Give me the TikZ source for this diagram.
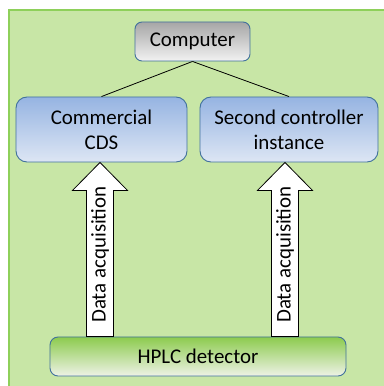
\documentclass[tikz,border=0pt]{standalone}
\usepackage{fontspec}
\setmainfont{Carlito}
\usetikzlibrary{calc}
\definecolor{bggreen}{HTML}{C8E6A6}
\definecolor{bgborder}{HTML}{8ED05A}
\definecolor{boxborder}{HTML}{41719C}
\definecolor{bluetop}{HTML}{96B4E2}
\definecolor{bluebot}{HTML}{DDE6F4}
\definecolor{graytop}{HTML}{A6A6A6}
\definecolor{graybot}{HTML}{F2F2F2}
\definecolor{greentop}{HTML}{8CCB4E}
\definecolor{greenbot}{HTML}{EEF2E6}
\tikzset{
  lbl/.style={font=\fontsize{21}{25}\selectfont, align=center, text=black},
  box/.style={lbl, draw=boxborder, line width=0.9bp, inner sep=0pt},
  graybox/.style={box, rounded corners=7bp, top color=graytop, bottom color=graybot},
  bluebox/.style={box, rounded corners=11bp, top color=bluetop, bottom color=bluebot},
  greenbox/.style={box, rounded corners=8bp, top color=greentop, bottom color=greenbot},
  link/.style={draw=black, line width=0.8bp},
  bigarrow/.style={draw=black, fill=white, line width=0.8bp, line join=miter},
}
\begin{document}
\begin{tikzpicture}[x=1bp,y=1bp]
\useasboundingbox (0,0) rectangle (384,386);
\begin{scope}
\clip (0,0) rectangle (384,386);
\draw[fill=bggreen, draw=bgborder, line width=2bp] (9,375.5) rectangle (400,-10);
\end{scope}
% nodes
\node[graybox, minimum width=115bp, minimum height=39bp] (comp) at (192.5,344.5) {Computer};
\node[bluebox, minimum width=171bp, minimum height=65bp] (cds) at (101.5,256.5) {Commercial\\CDS};
\node[bluebox, minimum width=178bp, minimum height=65bp] (sec) at (289,256.5) {Second controller\\instance};
\node[greenbox, minimum width=296bp, minimum height=39bp] (hplc) at (198,29.5) {HPLC detector};
% links
\draw[link] (comp.south) -- (cds.north);
\draw[link] (comp.south) -- (sec.north);
% big arrows
\coordinate (la) at (hplc.north -| 100,0);
\coordinate (ra) at (hplc.north -| 285,0);
\coordinate (lt) at (cds.south -| 100,0);
\coordinate (rt) at (sec.south -| 285,0);
\draw[bigarrow] ($(la)+(-13.5,0)$) -- ($(lt)+(-13.5,-28)$) -- ($(lt)+(-27.5,-28)$) -- (lt)
  -- ($(lt)+(27.5,-28)$) -- ($(lt)+(13.5,-28)$) -- ($(la)+(13.5,0)$) -- cycle;
\draw[bigarrow] ($(ra)+(-13.5,0)$) -- ($(rt)+(-13.5,-28)$) -- ($(rt)+(-27.5,-28)$) -- (rt)
  -- ($(rt)+(27.5,-28)$) -- ($(rt)+(13.5,-28)$) -- ($(ra)+(13.5,0)$) -- cycle;
\node[lbl, rotate=90, anchor=center] (lal) at ($(la)+(0,82)$) {Data acquisition};
\node[lbl, rotate=90, anchor=center] (ral) at ($(ra)+(0,82)$) {Data acquisition};
\end{tikzpicture}
\end{document}
